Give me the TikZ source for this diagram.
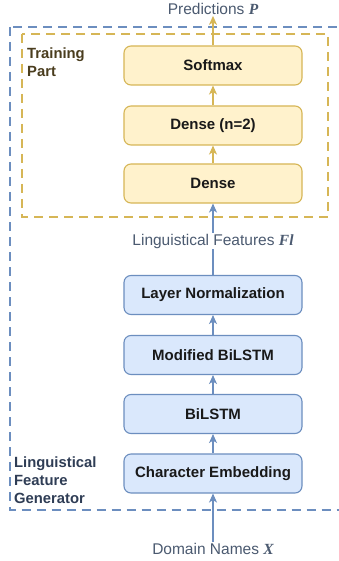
\documentclass[tikz,border=0pt]{standalone}
\usepackage{fontspec}
\setmainfont{Liberation Sans}
\newfontfamily\varfont{Liberation Serif}
\usetikzlibrary{arrows.meta}
\definecolor{ylfill}{HTML}{FFF2CC}
\definecolor{ylline}{HTML}{D6B656}
\definecolor{blfill}{HTML}{DAE8FC}
\definecolor{blline}{HTML}{6C8EBF}
\definecolor{lbltext}{HTML}{4B5A70}
\definecolor{trtext}{HTML}{4A3D1E}
\definecolor{gentext}{HTML}{2F3D55}
\tikzset{
  layer/.style={rounded corners=7pt, line width=1.1pt, minimum width=178pt, minimum height=39pt,
    inner sep=0pt, font=\fontsize{15}{18}\selectfont\bfseries, text=black!90},
  ylayer/.style={layer, draw=ylline, fill=ylfill},
  blayer/.style={layer, draw=blline, fill=blfill},
  iolabel/.style={font=\fontsize{15.5}{18}\selectfont, text=lbltext, inner sep=1pt},
  grouptitle/.style={font=\fontsize{14.8}{18}\selectfont\bfseries, align=left, anchor=west, inner sep=0pt},
  yarrow/.style={draw=ylline, line width=1.1pt, -{Stealth[length=9pt,width=8pt,inset=2.5pt]}},
  barrow/.style={draw=blline, line width=1.1pt, -{Stealth[length=9pt,width=8pt,inset=2.5pt]}},
}
\begin{document}
\begin{tikzpicture}[x=1pt,y=-1pt]
\useasboundingbox (0,0) rectangle (339,561);
\clip (0,0) rectangle (339,561);
\fill[white] (0,0) rectangle (339,561);

% group frames
\draw[blline, line width=2pt, dash pattern=on 9pt off 6pt] (9.5,27) rectangle (350,510);
\draw[ylline, line width=2pt, dash pattern=on 9pt off 6pt] (22,34) rectangle (328,217);

% group titles
\node[grouptitle, text=trtext] (trainpart) at (27,62) {Training\\Part};
\node[grouptitle, text=gentext] (generator) at (14,480) {Linguistical\\Feature\\Generator};

% training part layers
\node[ylayer] (softmax) at (213,65.5) {Softmax};
\node[ylayer] (dense2) at (213,125.5) {Dense (n=2)};
\node[ylayer] (dense) at (213,183.5) {Dense};

% feature generator layers
\node[blayer] (layernorm) at (213,295) {Layer Normalization};
\node[blayer] (modbilstm) at (213,355) {Modified BiLSTM};
\node[blayer] (bilstm) at (213,414) {BiLSTM};
\node[blayer] (charemb) at (213,473.5) {Character Embedding};

% inputs and outputs
\node[iolabel] (pred) at (213,9) {Predictions {\varfont\bfseries\itshape P}};
\node[iolabel] (domain) at (213,549) {Domain Names {\varfont\bfseries\itshape X}};
\coordinate (featpt) at (213,241);

% connectors
\draw[barrow] (domain.north) -- (charemb.south);
\draw[barrow] (charemb.north) -- (bilstm.south);
\draw[barrow] (bilstm.north) -- (modbilstm.south);
\draw[barrow] (modbilstm.north) -- (layernorm.south);
\draw[barrow] (layernorm.north) -- (dense.south);
\node[iolabel, fill=white] (features) at (featpt) {Linguistical Features {\varfont\bfseries\itshape Fl}};
\draw[yarrow] (dense.north) -- (dense2.south);
\draw[yarrow] (dense2.north) -- (softmax.south);
\draw[yarrow] (softmax.north) -- (pred.south);
\end{tikzpicture}
\end{document}
